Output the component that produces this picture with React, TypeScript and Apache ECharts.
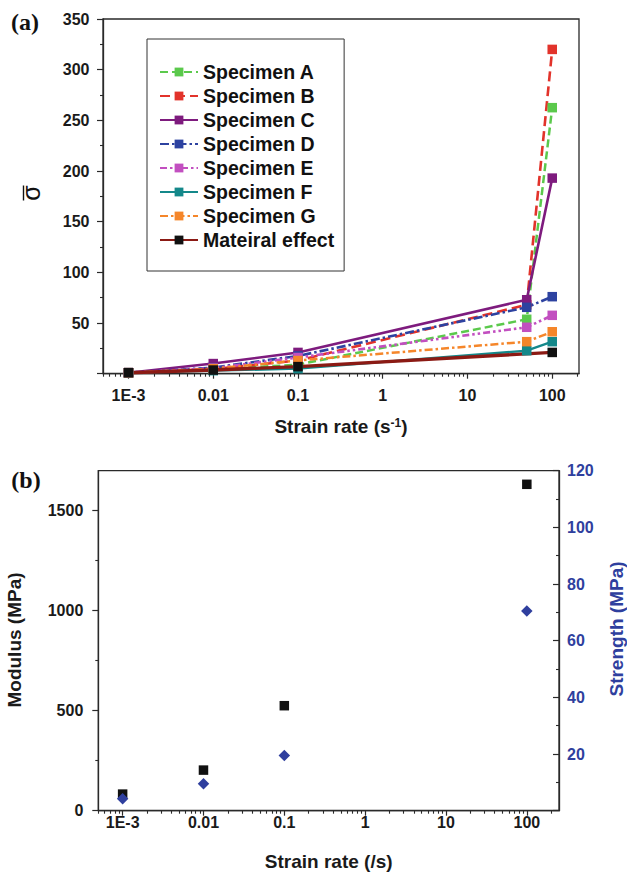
import React, { useEffect, useRef } from 'react';
import * as echarts from 'echarts';

// ---------- data ----------
const rateTickPositions = [-3, -2, -1, 0, 1, 2];
const rateTickLabels = ['1E-3', '0.01', '0.1', '1', '10', '100'];

const legendNames = [
  'Specimen A', 'Specimen B', 'Specimen C', 'Specimen D',
  'Specimen E', 'Specimen F', 'Specimen G', 'Mateiral effect',
];

const specimenRates = [0.001, 0.01, 0.1, 50, 100];
const specimenA = [1, 4, 9, 53.7, 262.5];
const specimenB = [1, 4.5, 13, 68, 320];
const specimenC = [1, 10, 21, 73, 193];
const specimenD = [1, 6, 17.5, 65.5, 76];
const specimenE = [1, 5.5, 16, 45.8, 57.6];
const specimenF = [1, 3, 5, 22.7, 31.6];
const specimenG = [1, 5, 13, 31.6, 41.4];
const materialRates = [0.001, 0.01, 0.1, 100];
const materialEffect = [1, 3.6, 7, 21];

const panelBRates = [0.001, 0.01, 0.1, 100];
const modulusValues = [83, 203, 525, 1632];
const strengthValues = [4.2, 9.5, 19.5, 70.5];

const modulusTicks = [0, 500, 1000, 1500];
const modulusMinorTicks = [250, 750, 1250];

// ---------- styles ----------
const FONT = "'Liberation Sans', Arial, Helvetica, sans-serif";
const TXT = '#1a1a1a';
const AX = '#2a2a2a';
const BLUE = '#2F3F9E';

const specimenStyles = [
  { color: '#5BC94C', dash: [8, 4], width: 2.5 },
  { color: '#E2332B', dash: [10, 5], width: 2.6 },
  { color: '#7E1B7E', dash: 'solid', width: 2.6 },
  { color: '#2D42A0', dash: [9, 3, 2.5, 3], width: 2.6 },
  { color: '#C24FC0', dash: [7, 3, 2.5, 3, 2.5, 3], width: 2.6 },
  { color: '#14888A', dash: 'solid', width: 2.4 },
  { color: '#F5862A', dash: [8, 3, 2.5, 3], width: 2.5 },
];
const specimenValues = [specimenA, specimenB, specimenC, specimenD, specimenE, specimenF, specimenG];

function minorLogPositions(min: number, max: number) {
  const out: number[] = [];
  for (let e = -4; e <= 2; e++) {
    for (let m = 2; m <= 9; m++) {
      const v = Math.log10(m * Math.pow(10, e));
      if (v >= min - 1e-6 && v <= max + 1e-6) out.push(v);
    }
  }
  return out;
}

function logXAxes(gridIndex: number, min: number, max: number, labelMargin: number) {
  return [
    {
      type: 'value', gridIndex, min, max, position: 'bottom',
      axisLine: { show: true, onZero: false, lineStyle: { color: AX, width: 1.3 } },
      axisTick: { show: true, customValues: rateTickPositions, length: 5, lineStyle: { color: AX, width: 1.2 } },
      axisLabel: {
        show: true, customValues: rateTickPositions, margin: labelMargin,
        formatter: (v: number) => {
          const i = rateTickPositions.findIndex((p) => Math.abs(p - v) < 1e-6);
          return i >= 0 ? rateTickLabels[i] : '';
        },
        fontFamily: FONT, fontWeight: 'bold', fontSize: 16, color: TXT,
      },
      splitLine: { show: false },
    },
    {
      type: 'value', gridIndex, min, max, position: 'bottom',
      axisLine: { show: false, onZero: false },
      axisTick: { show: true, customValues: minorLogPositions(min, max), length: 3, lineStyle: { color: AX, width: 1.1 } },
      axisLabel: { show: false },
      splitLine: { show: false },
    },
  ];
}

function buildOption() {
  const aMin = Math.log10(0.0005);
  const aMax = Math.log10(207);
  const bMin = Math.log10(0.0005);
  const bMax = Math.log10(250);

  const series: any[] = specimenValues.map((vals, k) => ({
    name: legendNames[k],
    type: 'line',
    xAxisIndex: 0,
    yAxisIndex: 0,
    data: specimenRates.map((r, i) => [Math.log10(r), vals[i]]),
    symbol: 'rect',
    symbolSize: 9.5,
    showAllSymbol: true,
    itemStyle: { color: specimenStyles[k].color, opacity: 1 },
    lineStyle: { color: specimenStyles[k].color, width: specimenStyles[k].width, type: specimenStyles[k].dash },
    emphasis: { disabled: true },
  }));
  series.push({
    name: legendNames[7],
    type: 'line',
    xAxisIndex: 0,
    yAxisIndex: 0,
    data: materialRates.map((r, i) => [Math.log10(r), materialEffect[i]]),
    symbol: 'rect',
    symbolSize: 9.5,
    itemStyle: { color: '#111111', opacity: 1 },
    lineStyle: { color: '#8B1A14', width: 3.4, type: 'solid' },
    emphasis: { disabled: true },
  });
  series.push({
    name: 'Modulus',
    type: 'scatter',
    xAxisIndex: 2,
    yAxisIndex: 1,
    data: panelBRates.map((r, i) => [Math.log10(r), modulusValues[i]]),
    symbol: 'rect',
    symbolSize: 9.5,
    itemStyle: { color: '#111111', opacity: 1 },
    emphasis: { disabled: true },
  });
  series.push({
    name: 'Strength',
    type: 'scatter',
    xAxisIndex: 2,
    yAxisIndex: 3,
    data: panelBRates.map((r, i) => [Math.log10(r), strengthValues[i]]),
    symbol: 'diamond',
    symbolSize: [11.5, 11.5],
    itemStyle: { color: BLUE, opacity: 1 },
    emphasis: { disabled: true },
  });

  const yLabel = { fontFamily: FONT, fontWeight: 'bold', fontSize: 16, color: TXT };

  return {
    animation: false,
    backgroundColor: '#ffffff',
    grid: [
      { left: 103, top: 19, width: 476, height: 354.7, show: true, borderColor: AX, borderWidth: 1.3, backgroundColor: 'transparent' },
      { left: 98.3, top: 470.7, width: 460.7, height: 340, show: true, borderColor: AX, borderWidth: 1.3, backgroundColor: 'transparent' },
    ],
    legend: {
      data: legendNames,
      orient: 'vertical',
      left: 147,
      top: 39,
      padding: [23, 10, 21, 12],
      itemGap: 4,
      itemWidth: 38,
      itemHeight: 11,
      borderColor: '#333',
      borderWidth: 1,
      selectedMode: false,
      textStyle: { fontFamily: FONT, fontWeight: 'bold', fontSize: 19.5, color: '#111', lineHeight: 20 },
    },
    xAxis: [...logXAxes(0, aMin, aMax, 14), ...logXAxes(1, bMin, bMax, 4)],
    yAxis: [
      {
        type: 'value', gridIndex: 0, min: 0, max: 350, interval: 50, position: 'left',
        axisLine: { show: true, onZero: false, lineStyle: { color: AX, width: 1.3 } },
        axisTick: { show: true, length: 6, lineStyle: { color: AX, width: 1.2 } },
        minorTick: { show: true, splitNumber: 2, length: 3, lineStyle: { color: AX, width: 1.1 } },
        axisLabel: { ...yLabel, margin: 13.5, showMinLabel: false, formatter: (v: number) => String(v) },
        splitLine: { show: false },
        minorSplitLine: { show: false },
      },
      {
        type: 'value', gridIndex: 1, min: 0, max: 1700, position: 'left',
        axisLine: { show: true, onZero: false, lineStyle: { color: AX, width: 1.3 } },
        axisTick: { show: true, customValues: modulusTicks, length: 6, lineStyle: { color: AX, width: 1.2 } },
        axisLabel: { ...yLabel, margin: 15, customValues: modulusTicks, formatter: (v: number) => String(v) },
        splitLine: { show: false },
      },
      {
        type: 'value', gridIndex: 1, min: 0, max: 1700, position: 'left',
        axisLine: { show: false, onZero: false },
        axisTick: { show: true, customValues: modulusMinorTicks, length: 3, lineStyle: { color: AX, width: 1.1 } },
        axisLabel: { show: false },
        splitLine: { show: false },
      },
      {
        type: 'value', gridIndex: 1, min: 0, max: 120, interval: 20, position: 'right',
        axisLine: { show: true, onZero: false, lineStyle: { color: AX, width: 1.3 } },
        axisTick: { show: true, inside: true, length: 6, lineStyle: { color: AX, width: 1.2 } },
        minorTick: { show: true, splitNumber: 2, length: 3, lineStyle: { color: AX, width: 1.1 } },
        axisLabel: { ...yLabel, color: BLUE, margin: 8, showMinLabel: false, formatter: (v: number) => String(v) },
        splitLine: { show: false },
        minorSplitLine: { show: false },
      },
    ],
    graphic: [
      { type: 'text', x: 25, y: 22, style: { text: '(a)', fontFamily: "'Liberation Serif', 'Times New Roman', serif", fontWeight: 'bold', fontSize: 24, fill: '#111', align: 'center', verticalAlign: 'middle' } },
      { type: 'text', x: 26, y: 480, style: { text: '(b)', fontFamily: "'Liberation Serif', 'Times New Roman', serif", fontWeight: 'bold', fontSize: 24, fill: '#111', align: 'center', verticalAlign: 'middle' } },
      {
        type: 'group', x: 33, y: 193, rotation: Math.PI / 2,
        children: [
          { type: 'text', x: 0, y: -2, style: { text: '\u03C3', fontFamily: FONT, fontSize: 25, fill: '#111', align: 'center', verticalAlign: 'middle' } },
          { type: 'line', shape: { x1: -7.5, y1: -9.5, x2: 7.5, y2: -9.5 }, style: { stroke: '#111', lineWidth: 1.4 } },
        ],
      },
      {
        type: 'text', x: 341, y: 426.7,
        style: {
          text: '{m|Strain rate (s}{s|-1}{m|)}',
          align: 'center', verticalAlign: 'middle',
          rich: {
            m: { fontFamily: FONT, fontWeight: 'bold', fontSize: 19, fill: TXT },
            s: { fontFamily: FONT, fontWeight: 'bold', fontSize: 12, fill: TXT, verticalAlign: 'top' },
          },
        },
      },
      { type: 'text', x: 328.7, y: 861.7, style: { text: 'Strain rate (/s)', fontFamily: FONT, fontWeight: 'bold', fontSize: 19, fill: TXT, align: 'center', verticalAlign: 'middle' } },
      { type: 'text', x: 14, y: 640, rotation: Math.PI / 2, style: { text: 'Modulus (MPa)', fontFamily: FONT, fontWeight: 'bold', fontSize: 19, fill: TXT, align: 'center', verticalAlign: 'middle' } },
      { type: 'text', x: 616.5, y: 629, rotation: Math.PI / 2, style: { text: 'Strength (MPa)', fontFamily: FONT, fontWeight: 'bold', fontSize: 19, fill: BLUE, align: 'center', verticalAlign: 'middle' } },
    ],
    series,
  };
}

export default function App() {
  const ref = useRef<HTMLDivElement>(null);
  useEffect(() => {
    if (!ref.current) return;
    const chart = echarts.init(ref.current, null, { renderer: 'svg' });
    chart.setOption(buildOption() as any);
    return () => chart.dispose();
  }, []);
  return (
    <div
      ref={ref}
      style={{ position: 'fixed', left: 0, top: 0, width: 627, height: 874, background: '#fff' }}
    />
  );
}
